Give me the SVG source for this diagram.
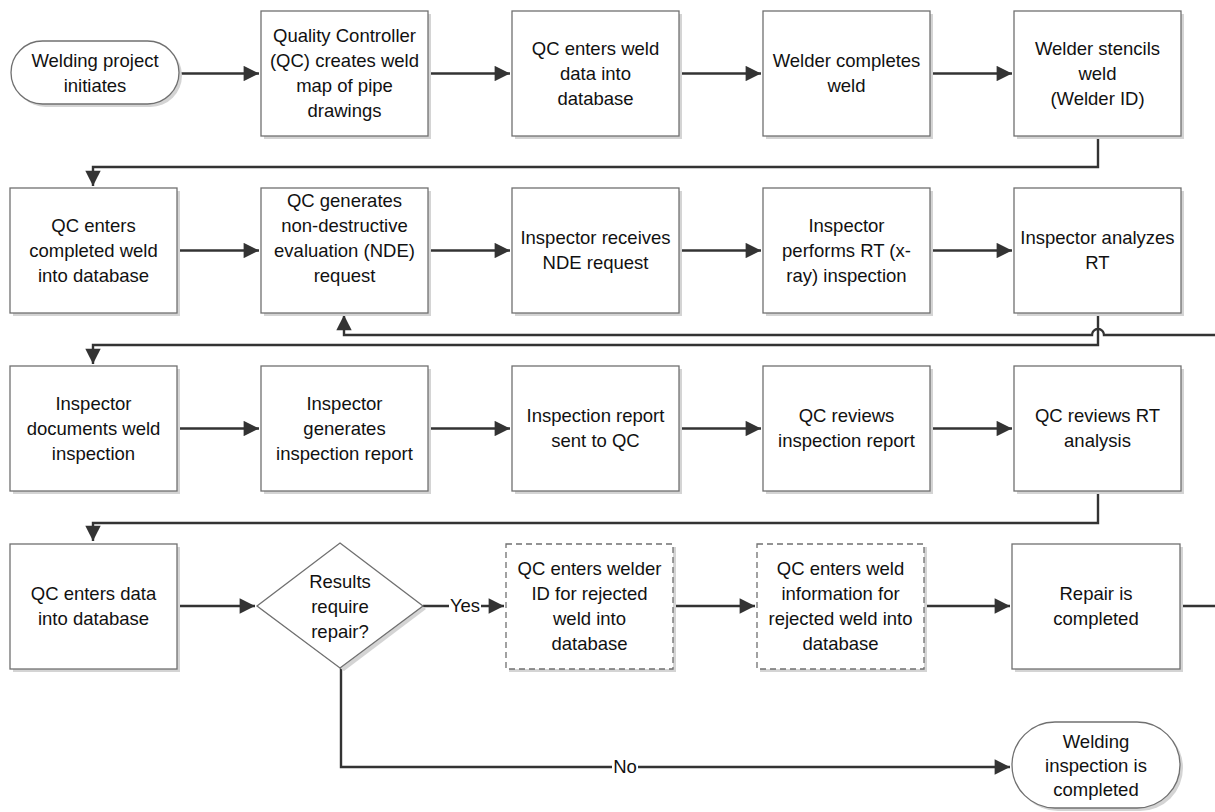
<svg xmlns="http://www.w3.org/2000/svg" width="1215" height="812" viewBox="0 0 1215 812">
<style>
.box{fill:#fff;stroke:#707070;stroke-width:1.3}
.dash{fill:#fff;stroke:#707070;stroke-width:1.3;stroke-dasharray:6 4}
.sh{fill:#d4d4d4;stroke:none}
.t{font-family:"Liberation Sans",Arial,sans-serif;font-size:18.5px;fill:#111;text-anchor:middle}
.c{fill:none;stroke:#333;stroke-width:2.4}
.lbl{font-family:"Liberation Sans",Arial,sans-serif;font-size:18.5px;fill:#111;text-anchor:middle}
</style>
<defs>
<marker id="ah" viewBox="0 0 10 10" refX="10" refY="5" markerWidth="7" markerHeight="6.4" orient="auto" markerUnits="strokeWidth">
<path d="M0,0 L10,5 L0,10 z" fill="#333"/>
</marker>
</defs>
<rect width="1215" height="812" fill="#fff"/>

<g id="connectors">
<path class="c" d="M179,73.5 H259" marker-end="url(#ah)"/>
<path class="c" d="M428,73.5 H510" marker-end="url(#ah)"/>
<path class="c" d="M679,73.5 H761" marker-end="url(#ah)"/>
<path class="c" d="M930,73.5 H1012" marker-end="url(#ah)"/>
<path class="c" d="M1098,136 V167 H93 V186" marker-end="url(#ah)"/>
<path class="c" d="M177,250.5 H259" marker-end="url(#ah)"/>
<path class="c" d="M428,250.5 H510" marker-end="url(#ah)"/>
<path class="c" d="M679,250.5 H761" marker-end="url(#ah)"/>
<path class="c" d="M930,250.5 H1012" marker-end="url(#ah)"/>
<path class="c" d="M1215,335 H1104 A6,6 0 0 0 1092,335 H344 V315" marker-end="url(#ah)"/>
<path class="c" d="M1098,313 V345 H93 V364" marker-end="url(#ah)"/>
<path class="c" d="M177,428.5 H259" marker-end="url(#ah)"/>
<path class="c" d="M428,428.5 H510" marker-end="url(#ah)"/>
<path class="c" d="M679,428.5 H761" marker-end="url(#ah)"/>
<path class="c" d="M930,428.5 H1012" marker-end="url(#ah)"/>
<path class="c" d="M1098,491 V523 H93 V541" marker-end="url(#ah)"/>
<path class="c" d="M177,606 H255" marker-end="url(#ah)"/>
<path class="c" d="M423,606 H504" marker-end="url(#ah)"/>
<path class="c" d="M673,606 H755" marker-end="url(#ah)"/>
<path class="c" d="M924,606 H1010" marker-end="url(#ah)"/>
<path class="c" d="M1180,606 H1215"/>
<path class="c" d="M341,668 V767 H1010" marker-end="url(#ah)"/>
<rect x="449" y="594" width="32" height="22" fill="#fff"/>
<text class="lbl" x="465" y="612">Yes</text>
<rect x="612" y="756" width="26" height="22" fill="#fff"/>
<text class="lbl" x="625" y="773">No</text>
</g>

<g id="n1">
<rect class="sh" x="14" y="44" width="168" height="63" rx="31.5"/>
<rect class="box" x="11" y="41" width="168" height="63" rx="31.5"/>
<text class="t" x="95" y="67">Welding project</text>
<text class="t" x="95" y="92">initiates</text>
</g>
<g id="n2">
<rect class="sh" x="264" y="14" width="167" height="125"/>
<rect class="box" x="261" y="11" width="167" height="125"/>
<text class="t" x="344.5" y="42">Quality Controller</text>
<text class="t" x="344.5" y="67">(QC) creates weld</text>
<text class="t" x="344.5" y="92">map of pipe</text>
<text class="t" x="344.5" y="117">drawings</text>
</g>
<g id="n3">
<rect class="sh" x="515" y="14" width="167" height="125"/>
<rect class="box" x="512" y="11" width="167" height="125"/>
<text class="t" x="595.5" y="55">QC enters weld</text>
<text class="t" x="595.5" y="80">data into</text>
<text class="t" x="595.5" y="105">database</text>
</g>
<g id="n4">
<rect class="sh" x="766" y="14" width="167" height="125"/>
<rect class="box" x="763" y="11" width="167" height="125"/>
<text class="t" x="846.5" y="67">Welder completes</text>
<text class="t" x="846.5" y="92">weld</text>
</g>
<g id="n5">
<rect class="sh" x="1017" y="14" width="167" height="125"/>
<rect class="box" x="1014" y="11" width="167" height="125"/>
<text class="t" x="1097.5" y="55">Welder stencils</text>
<text class="t" x="1097.5" y="80">weld</text>
<text class="t" x="1097.5" y="105">(Welder ID)</text>
</g>

<g id="n6">
<rect class="sh" x="13" y="191" width="167" height="125"/>
<rect class="box" x="10" y="188" width="167" height="125"/>
<text class="t" x="93.5" y="232">QC enters</text>
<text class="t" x="93.5" y="257">completed weld</text>
<text class="t" x="93.5" y="282">into database</text>
</g>
<g id="n7">
<rect class="sh" x="264" y="191" width="167" height="125"/>
<rect class="box" x="261" y="188" width="167" height="125"/>
<text class="t" x="344.5" y="207">QC generates</text>
<text class="t" x="344.5" y="232">non-destructive</text>
<text class="t" x="344.5" y="257">evaluation (NDE)</text>
<text class="t" x="344.5" y="282">request</text>
</g>
<g id="n8">
<rect class="sh" x="515" y="191" width="167" height="125"/>
<rect class="box" x="512" y="188" width="167" height="125"/>
<text class="t" x="595.5" y="244">Inspector receives</text>
<text class="t" x="595.5" y="269">NDE request</text>
</g>
<g id="n9">
<rect class="sh" x="766" y="191" width="167" height="125"/>
<rect class="box" x="763" y="188" width="167" height="125"/>
<text class="t" x="846.5" y="232">Inspector</text>
<text class="t" x="846.5" y="257">performs RT (x-</text>
<text class="t" x="846.5" y="282">ray) inspection</text>
</g>
<g id="n10">
<rect class="sh" x="1017" y="191" width="167" height="125"/>
<rect class="box" x="1014" y="188" width="167" height="125"/>
<text class="t" x="1097.5" y="244">Inspector analyzes</text>
<text class="t" x="1097.5" y="269">RT</text>
</g>

<g id="n11">
<rect class="sh" x="13" y="369" width="167" height="125"/>
<rect class="box" x="10" y="366" width="167" height="125"/>
<text class="t" x="93.5" y="410">Inspector</text>
<text class="t" x="93.5" y="435">documents weld</text>
<text class="t" x="93.5" y="460">inspection</text>
</g>
<g id="n12">
<rect class="sh" x="264" y="369" width="167" height="125"/>
<rect class="box" x="261" y="366" width="167" height="125"/>
<text class="t" x="344.5" y="410">Inspector</text>
<text class="t" x="344.5" y="435">generates</text>
<text class="t" x="344.5" y="460">inspection report</text>
</g>
<g id="n13">
<rect class="sh" x="515" y="369" width="167" height="125"/>
<rect class="box" x="512" y="366" width="167" height="125"/>
<text class="t" x="595.5" y="422">Inspection report</text>
<text class="t" x="595.5" y="447">sent to QC</text>
</g>
<g id="n14">
<rect class="sh" x="766" y="369" width="167" height="125"/>
<rect class="box" x="763" y="366" width="167" height="125"/>
<text class="t" x="846.5" y="422">QC reviews</text>
<text class="t" x="846.5" y="447">inspection report</text>
</g>
<g id="n15">
<rect class="sh" x="1017" y="369" width="167" height="125"/>
<rect class="box" x="1014" y="366" width="167" height="125"/>
<text class="t" x="1097.5" y="422">QC reviews RT</text>
<text class="t" x="1097.5" y="447">analysis</text>
</g>

<g id="n16">
<rect class="sh" x="13" y="547" width="167" height="125"/>
<rect class="box" x="10" y="544" width="167" height="125"/>
<text class="t" x="93.5" y="600">QC enters data</text>
<text class="t" x="93.5" y="625">into database</text>
</g>
<g id="n17">
<path class="sh" d="M344,546 L426,609 L344,671 L260,609 z"/>
<path class="box" d="M340,543 L423,606 L340,668 L257,606 z"/>
<text class="t" x="340" y="588">Results</text>
<text class="t" x="340" y="613">require</text>
<text class="t" x="340" y="638">repair?</text>
</g>
<g id="n18">
<rect class="sh" x="509" y="547" width="167" height="125"/>
<rect class="dash" x="506" y="544" width="167" height="125"/>
<text class="t" x="589.5" y="575">QC enters welder</text>
<text class="t" x="589.5" y="600">ID for rejected</text>
<text class="t" x="589.5" y="625">weld into</text>
<text class="t" x="589.5" y="650">database</text>
</g>
<g id="n19">
<rect class="sh" x="760" y="547" width="167" height="125"/>
<rect class="dash" x="757" y="544" width="167" height="125"/>
<text class="t" x="840.5" y="575">QC enters weld</text>
<text class="t" x="840.5" y="600">information for</text>
<text class="t" x="840.5" y="625">rejected weld into</text>
<text class="t" x="840.5" y="650">database</text>
</g>
<g id="n20">
<rect class="sh" x="1015" y="547" width="168" height="125"/>
<rect class="box" x="1012" y="544" width="168" height="125"/>
<text class="t" x="1096" y="600">Repair is</text>
<text class="t" x="1096" y="625">completed</text>
</g>
<g id="n21">
<rect class="sh" x="1015" y="725" width="168" height="86" rx="43"/>
<rect class="box" x="1012" y="722" width="168" height="86" rx="43"/>
<text class="t" x="1096" y="748">Welding</text>
<text class="t" x="1096" y="772">inspection is</text>
<text class="t" x="1096" y="796">completed</text>
</g>
</svg>
